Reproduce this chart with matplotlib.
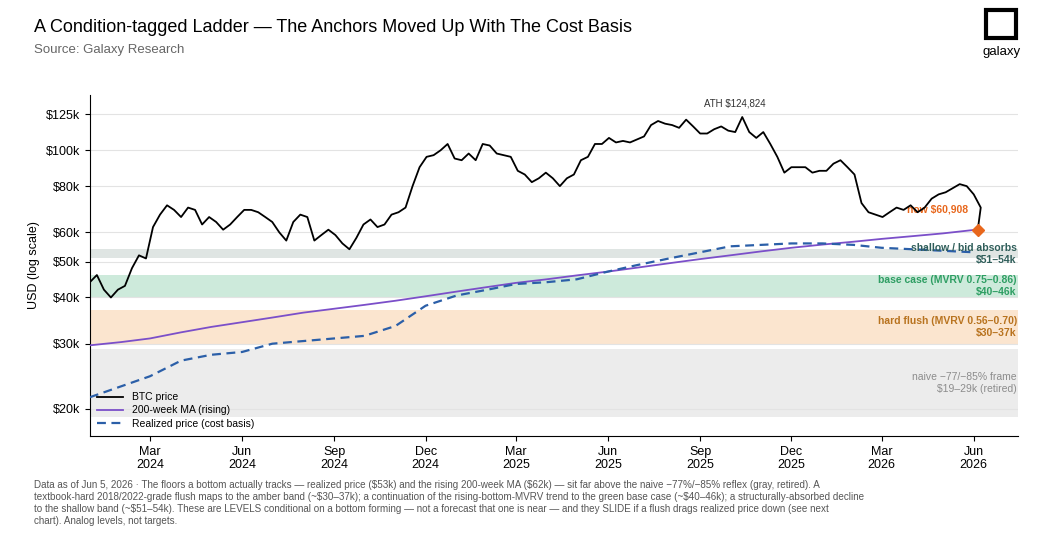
import numpy as np
import pandas as pd
import matplotlib
matplotlib.use("Agg")
import matplotlib.pyplot as plt
import matplotlib.dates as mdates
from matplotlib.ticker import FixedLocator, NullLocator

plt.rcParams['font.family'] = ['Liberation Sans', 'DejaVu Sans']

# weekly BTC closes ($k), starting 2024-01-01
btc_k = [44, 46, 42, 40, 42,
         43, 48, 52, 51, 62,
         67, 71, 69, 66,
         70, 69, 63, 66, 64,
         61, 63, 66, 69,
         69, 68, 66, 64,
         60, 57, 64, 67, 66,
         57, 59, 61, 59,
         56, 54, 58, 63, 65,
         62, 63, 67, 68,
         70, 80, 90, 96,
         97, 100, 104, 95, 94,
         98, 94, 104, 103,
         98, 97, 96, 88,
         86, 82, 84, 87, 84,
         80, 84, 86, 94,
         96, 104, 104, 108,
         105, 106, 105, 107, 109,
         117, 120, 118, 117,
         115, 121, 116, 111,
         111, 114, 116, 113, 112,
         123, 112, 108, 112,
         104, 96, 87, 90,
         90, 90, 87, 88, 88,
         92, 94, 90, 86,
         72, 68, 67, 66,
         68, 70, 69, 71, 68,
         70, 74, 76, 77,
         79, 81, 80, 76,
         70]
btc_last = 60.908
ath_date, ath_val = "2025-10-06", 124.824

# monthly realized price and 200-week MA ($k)
month_dates = pd.date_range("2024-01-01", "2026-06-01", freq="MS")
realized_k = [21.5, 23.0, 24.5, 27.0, 28.0, 28.5, 30.0, 30.5, 31.0, 31.5, 33.5, 38.0,
              40.5, 42.0, 43.5, 44.0, 44.8, 47.0, 49.0, 51.0, 53.0, 55.0, 55.5, 56.0,
              56.0, 55.5, 54.5, 54.0, 53.5, 53.0]
ma200_k = [29.7, 30.3, 31.0, 32.2, 33.3, 34.3, 35.3, 36.4, 37.3, 38.2, 39.2, 40.3,
           41.5, 42.7, 43.8, 44.8, 45.9, 47.0, 48.2, 49.5, 50.8, 52.0, 53.3, 54.5,
           55.6, 56.6, 57.6, 58.6, 59.6, 60.9]

bands = [  # lo, hi, colour, label colour, label
    (51, 54, "#dfe5e3", "#2f5e5a", "shallow / bid absorbs\n$51–54k"),
    (40, 46, "#cdeadb", "#2e9e63", "base case (MVRV 0.75–0.86)\n$40–46k"),
    (30, 37, "#fbe5cf", "#b8731f", "hard flush (MVRV 0.56–0.70)\n$30–37k"),
    (19, 29, "#ececec", "#8c8c8c", "naive −77/−85% frame\n$19–29k (retired)"),
]

yticks = [20, 30, 40, 50, 60, 80, 100, 125]

btc_dates = list(pd.date_range("2024-01-01", periods=len(btc_k), freq="7D")) + [pd.Timestamp("2026-06-05")]
btc = np.array(btc_k + [btc_last]) * 1000

fig = plt.figure(figsize=(10.45, 5.56), dpi=100)
ax = fig.add_axes([0.086, 0.216, 0.888, 0.613])

x0, x1 = pd.Timestamp("2024-01-01"), pd.Timestamp("2026-07-15")
for lo, hi, c, tc, lab in bands:
    ax.axhspan(lo * 1000, hi * 1000, color=c, zorder=0, lw=0)
    ax.text(x1 - pd.Timedelta(days=1), np.sqrt(lo * hi) * 1000, lab, ha="right", va="center",
            fontsize=7.5, color=tc, fontweight="bold" if tc != "#8c8c8c" else "normal", zorder=5,
            parse_math=False)

ax.plot(btc_dates, btc, color="black", lw=1.3, label="BTC price", zorder=4)
ax.plot(month_dates, np.array(ma200_k) * 1000, color="#7b4fc9", lw=1.3, label="200-week MA (rising)", zorder=3)
ax.plot(month_dates, np.array(realized_k) * 1000, color="#2b5fa8", lw=1.6, ls=(0, (4, 2.5)),
        label="Realized price (cost basis)", zorder=3)
ax.plot(btc_dates[-1], btc[-1], marker="D", color="#e8671c", ms=6, zorder=6)
ax.text(btc_dates[-1] - pd.Timedelta(days=10), btc[-1] * 1.1, f"now ${btc_last*1000:,.0f}",
        color="#e8671c", fontsize=7.5, fontweight="bold", ha="right", va="bottom", parse_math=False)
ax.text(pd.Timestamp(ath_date), ath_val * 1000 * 1.04, f"ATH ${ath_val*1000:,.0f}",
        fontsize=7, ha="center", va="bottom", color="#333", parse_math=False)

ax.set_yscale("log")
ax.set_ylim(16900, 141000)
ax.set_xlim(x0, x1)
ax.yaxis.set_major_locator(FixedLocator([v * 1000 for v in yticks]))
ax.yaxis.set_minor_locator(NullLocator())
ax.set_yticklabels([f"${v}k" for v in yticks], fontsize=9)
ax.set_ylabel("USD (log scale)", fontsize=9)
ax.grid(axis="y", color="#e3e3e3", lw=0.8, zorder=1)
ax.set_axisbelow(True)
ax.xaxis.set_major_locator(mdates.MonthLocator(bymonth=[3, 6, 9, 12]))
ax.xaxis.set_major_formatter(mdates.DateFormatter("%b\n%Y"))
ax.tick_params(axis="x", labelsize=9)
for s in ["top", "right"]:
    ax.spines[s].set_visible(False)
ax.legend(loc="lower left", frameon=False, fontsize=7.5, handlelength=2.5, borderaxespad=0.3, labelspacing=0.3)

fig.text(0.033, 0.95, "A Condition-tagged Ladder — The Anchors Moved Up With The Cost Basis", fontsize=13, va="center")
fig.text(0.033, 0.91, "Source: Galaxy Research", fontsize=9.5, color="#666", va="center")
fig.patches.append(plt.Rectangle((0.944, 0.932), 0.028, 0.05, transform=fig.transFigure,
                                 fill=False, lw=3, ec="black"))
fig.text(0.958, 0.906, "galaxy", fontsize=9.5, ha="center", va="center")

note = ("Data as of Jun 5, 2026 · The floors a bottom actually tracks — realized price ($53k) and the rising 200-week MA ($62k) — sit far above the naive −77%/−85% reflex (gray, retired). A\n"
        "textbook-hard 2018/2022-grade flush maps to the amber band (~$30–37k); a continuation of the rising-bottom-MVRV trend to the green base case (~$40–46k); a structurally-absorbed decline\n"
        "to the shallow band (~$51–54k). These are LEVELS conditional on a bottom forming — not a forecast that one is near — and they SLIDE if a flush drags realized price down (see next\n"
        "chart). Analog levels, not targets.")
fig.text(0.033, 0.095, note, fontsize=7.1, color="#555", va="center", linespacing=1.25, parse_math=False)

fig.savefig("out.png", dpi=100)
